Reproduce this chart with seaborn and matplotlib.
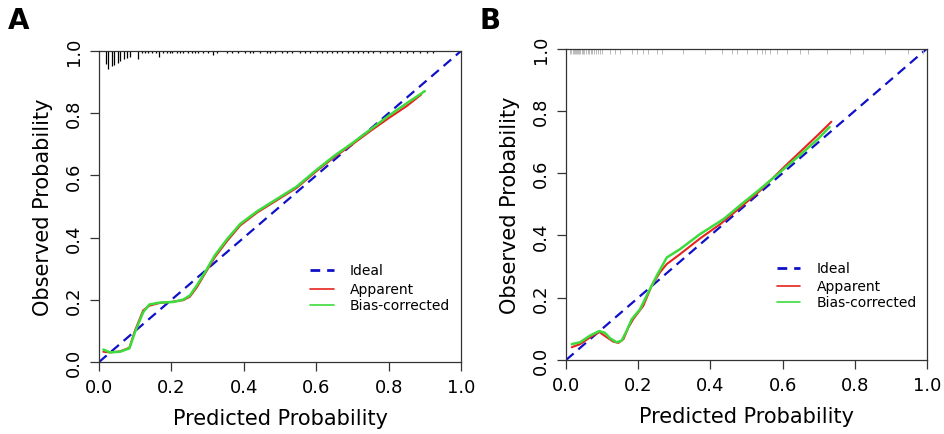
import numpy as np
import matplotlib
matplotlib.use("Agg")
import matplotlib.pyplot as plt
import seaborn as sns

# calibration curves
a_x = [0.012, 0.030, 0.058, 0.084, 0.099, 0.122, 0.139, 0.168, 0.205, 0.233, 0.251,
       0.270, 0.293, 0.320, 0.353, 0.390, 0.436, 0.491, 0.546, 0.600, 0.650, 0.700,
       0.750, 0.800, 0.850, 0.900]
a_bias = [0.040, 0.031, 0.033, 0.044, 0.095, 0.160, 0.185, 0.191, 0.193, 0.201, 0.214,
          0.246, 0.289, 0.343, 0.394, 0.444, 0.484, 0.524, 0.564, 0.617, 0.663, 0.704,
          0.748, 0.792, 0.832, 0.871]
a_app_x = [0.012, 0.030, 0.058, 0.084, 0.099, 0.122, 0.139, 0.168, 0.205, 0.233, 0.251,
           0.270, 0.293, 0.320, 0.353, 0.390, 0.436, 0.491, 0.546, 0.600, 0.650, 0.700,
           0.750, 0.800, 0.850, 0.890]
a_app = [0.033, 0.031, 0.034, 0.046, 0.100, 0.166, 0.181, 0.190, 0.194, 0.199, 0.210,
         0.240, 0.285, 0.337, 0.388, 0.439, 0.480, 0.520, 0.560, 0.613, 0.659, 0.700,
         0.743, 0.784, 0.823, 0.860]

b_bias_x = [0.016, 0.039, 0.066, 0.092, 0.108, 0.122, 0.140, 0.154, 0.168, 0.182, 0.205,
            0.228, 0.251, 0.279, 0.316, 0.371, 0.436, 0.491, 0.537, 0.600, 0.650, 0.700,
            0.730]
b_bias = [0.051, 0.057, 0.078, 0.093, 0.087, 0.070, 0.057, 0.062, 0.094, 0.131, 0.163,
          0.217, 0.270, 0.329, 0.356, 0.404, 0.452, 0.505, 0.548, 0.610, 0.660, 0.712,
          0.748]
b_app_x = [0.016, 0.039, 0.071, 0.092, 0.113, 0.131, 0.145, 0.159, 0.173, 0.186, 0.214,
           0.237, 0.260, 0.279, 0.316, 0.371, 0.427, 0.482, 0.537, 0.600, 0.650, 0.700,
           0.735]
b_app = [0.041, 0.051, 0.076, 0.090, 0.073, 0.059, 0.055, 0.067, 0.105, 0.131, 0.174,
         0.238, 0.281, 0.308, 0.340, 0.390, 0.436, 0.489, 0.543, 0.615, 0.670, 0.725,
         0.765]

# distribution of predictions (rug along the top)
rug_a_x = [0.019, 0.026, 0.035, 0.042, 0.052, 0.059, 0.068, 0.077, 0.086, 0.107,
           0.118, 0.127, 0.136, 0.147, 0.158, 0.166, 0.177, 0.187, 0.196, 0.202,
           0.215, 0.224, 0.233, 0.247, 0.256, 0.265, 0.274, 0.288, 0.302, 0.315,
           0.325, 0.353, 0.367, 0.385, 0.403, 0.417, 0.426, 0.445, 0.463, 0.472,
           0.486, 0.505, 0.519, 0.532, 0.555, 0.569, 0.583, 0.601, 0.615, 0.629,
           0.643, 0.657, 0.670, 0.689, 0.702, 0.716, 0.730, 0.744, 0.757, 0.776,
           0.795, 0.813, 0.831, 0.850, 0.868, 0.887, 0.905, 0.923]
rug_a_len = [0.042, 0.058, 0.048, 0.045, 0.039, 0.032, 0.026, 0.022, 0.019, 0.026,
             0.008, 0.007, 0.007, 0.008, 0.007, 0.020, 0.007, 0.006, 0.007, 0.006,
             0.006, 0.006, 0.007, 0.006, 0.006, 0.006, 0.006, 0.006, 0.006, 0.014,
             0.006, 0.005, 0.005, 0.006, 0.005, 0.005, 0.005, 0.005, 0.005, 0.005,
             0.005, 0.005, 0.005, 0.005, 0.005, 0.005, 0.005, 0.005, 0.005, 0.005,
             0.005, 0.005, 0.005, 0.005, 0.005, 0.005, 0.008, 0.005, 0.005, 0.005,
             0.005, 0.005, 0.005, 0.005, 0.005, 0.005, 0.005, 0.005]

rug_b_x = [0.010, 0.014, 0.018, 0.021, 0.024, 0.027, 0.030, 0.033, 0.036, 0.040,
           0.043, 0.046, 0.050, 0.055, 0.060, 0.064, 0.068, 0.073, 0.078, 0.083,
           0.088, 0.094, 0.100, 0.122, 0.136, 0.150, 0.182, 0.196, 0.214, 0.228,
           0.251, 0.265, 0.325, 0.385, 0.431, 0.459, 0.473, 0.500, 0.528, 0.542,
           0.551, 0.565, 0.584, 0.611, 0.648, 0.671, 0.722, 0.787, 0.824, 0.884,
           0.948, 0.990]

legend_labels = ["Ideal", "Apparent", "Bias-corrected"]
panel_labels = ["A", "B"]

sns.set_style("ticks")
plt.rcParams["font.family"] = ["DejaVu Sans"]
plt.rcParams["text.color"] = "black"
plt.rcParams["axes.labelcolor"] = "black"
plt.rcParams["xtick.color"] = "black"
plt.rcParams["ytick.color"] = "black"

fig = plt.figure(figsize=(9.44, 4.35), dpi=100)
ax_a = fig.add_axes([0.1049, 0.1655, 0.3835, 0.715])
ax_b = fig.add_axes([0.5996, 0.1701, 0.3824, 0.716])

blue = "#1010c8"
red = "#e8231e"
green = "#3ddc3d"


def draw_panel(ax, app_x, app_y, bias_x, bias_y, rug_x, rug_len, rug_col, rug_lw,
               leg_x, leg_y):
    ideal = [0.0, 1.0]
    sns.lineplot(x=ideal, y=ideal, ax=ax, color=blue, lw=1.6, dashes=False)
    ax.lines[-1].set_dashes((4.5, 2.8))
    sns.lineplot(x=app_x, y=app_y, ax=ax, color=red, lw=1.5, sort=False, estimator=None)
    sns.lineplot(x=bias_x, y=bias_y, ax=ax, color=green, lw=1.8, sort=False, estimator=None)
    tops = np.ones(len(rug_x))
    ax.vlines(rug_x, tops - np.asarray(rug_len), tops, color=rug_col, lw=rug_lw)

    # legend drawn R-style, no frame
    styles = [dict(color=blue, lw=2.0, dashes=(3.5, 2.5)),
              dict(color=red, lw=1.2),
              dict(color=green, lw=1.2)]
    for lab, yy, st in zip(legend_labels, leg_y, styles):
        ax.plot([leg_x, leg_x + 0.065], [yy, yy], **st)
        ax.text(leg_x + 0.11, yy, lab, fontsize=10, va="center", ha="left")

    ax.set_xlim(0, 1)
    ax.set_ylim(0, 1)
    ticks = np.arange(0, 1.01, 0.2)
    ax.set_xticks(ticks)
    ax.set_yticks(ticks)
    ax.set_xticklabels([f"{v:.1f}" for v in ticks], fontsize=13)
    ax.set_yticklabels([f"{v:.1f}" for v in ticks], fontsize=13,
                       rotation=90, va="center")
    ax.tick_params(length=6.5, width=0.9, color="#333333", pad=5)
    for s in ax.spines.values():
        s.set_visible(True)
        s.set_linewidth(0.9)
        s.set_color("#333333")
    ax.set_xlabel("Predicted Probability", fontsize=15, labelpad=9)
    ax.set_ylabel("Observed Probability", fontsize=15, labelpad=9)


draw_panel(ax_a, a_app_x, a_app, a_x, a_bias, rug_a_x, rug_a_len, "black", 0.9,
           0.583, [0.296, 0.236, 0.184])
draw_panel(ax_b, b_app_x, b_app, b_bias_x, b_bias, rug_b_x,
           [0.016] * len(rug_b_x), "#b0b0b0", 0.6, 0.584, [0.295, 0.237, 0.186])

fig.text(0.008, 0.985, panel_labels[0], fontsize=20, fontweight="bold", va="top")
fig.text(0.508, 0.985, panel_labels[1], fontsize=20, fontweight="bold", va="top")

fig.savefig("out.png", dpi=100)
